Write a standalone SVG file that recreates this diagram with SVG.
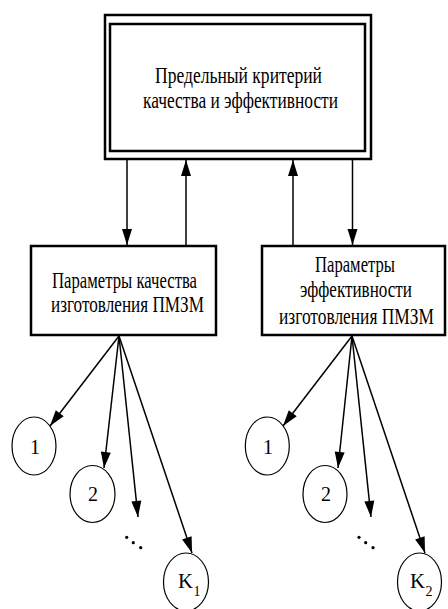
<svg xmlns="http://www.w3.org/2000/svg" width="448" height="609" viewBox="0 0 448 609">
<defs>
<marker id="ah" markerUnits="userSpaceOnUse" markerWidth="16" markerHeight="10" refX="16" refY="5" orient="auto" overflow="visible">
<path d="M0,0 L16,5 L0,10 z" fill="#000"/>
</marker>
</defs>
<style>
.box{fill:#fff;stroke:#000;stroke-width:2.5}
.ell{fill:#fff;stroke:#000;stroke-width:1.2}
text{font-family:'Liberation Serif','DejaVu Serif',serif;fill:#000}
.t{font-size:23px}
.n{font-size:20px;text-anchor:middle}
.s{font-size:14px}
.c{stroke:#000;stroke-width:1.5;fill:none;marker-end:url(#ah)}
</style>
<rect width="448" height="609" fill="#fff"/>
<g id="top">
<rect class="box" x="105" y="15" width="266" height="144"/>
<rect class="box" x="110" y="24" width="255" height="127"/>
<text class="t" x="155" y="83" textLength="167" lengthAdjust="spacingAndGlyphs">Предельный критерий</text>
<text class="t" x="143" y="108" textLength="195" lengthAdjust="spacingAndGlyphs">качества и эффективности</text>
</g>
<g id="quality">
<rect class="box" x="31" y="246" width="185" height="89"/>
<text class="t" x="52" y="288" textLength="145" lengthAdjust="spacingAndGlyphs">Параметры качества</text>
<text class="t" x="51" y="312" textLength="153" lengthAdjust="spacingAndGlyphs">изготовления ПМЗМ</text>
</g>
<g id="efficiency">
<rect class="box" x="262" y="246" width="183" height="89"/>
<text class="t" x="315" y="272" textLength="80" lengthAdjust="spacingAndGlyphs">Параметры</text>
<text class="t" x="300" y="297" textLength="112" lengthAdjust="spacingAndGlyphs">эффективности</text>
<text class="t" x="279" y="324" textLength="155" lengthAdjust="spacingAndGlyphs">изготовления ПМЗМ</text>
</g>
<g id="q1"><ellipse class="ell" cx="34" cy="446" rx="22" ry="29"/><text class="n" x="35" y="454">1</text></g>
<g id="q2"><ellipse class="ell" cx="92.5" cy="494" rx="22.5" ry="28.5"/><text class="n" x="93" y="501">2</text></g>
<g id="qk"><ellipse class="ell" cx="186" cy="582" rx="22.5" ry="29"/><text class="n" x="185.5" y="588" textLength="15" lengthAdjust="spacingAndGlyphs">K</text><text class="s" x="193.5" y="596">1</text></g>
<g id="e1"><ellipse class="ell" cx="267.3" cy="446" rx="22" ry="29"/><text class="n" x="268" y="454">1</text></g>
<g id="e2"><ellipse class="ell" cx="325" cy="494" rx="22" ry="28.5"/><text class="n" x="326" y="501">2</text></g>
<g id="ek"><ellipse class="ell" cx="419.5" cy="582" rx="22" ry="29"/><text class="n" x="417.5" y="588" textLength="15" lengthAdjust="spacingAndGlyphs">K</text><text class="s" x="425.5" y="596">2</text></g>
<g id="dots">
<circle cx="126.7" cy="537.3" r="1.6"/><circle cx="133.3" cy="542.7" r="1.6"/><circle cx="140.7" cy="547.7" r="1.6"/>
<circle cx="359" cy="537.3" r="1.6"/><circle cx="365.7" cy="542.7" r="1.6"/><circle cx="373" cy="547.7" r="1.6"/>
</g>
<g id="connectors">
<line class="c" x1="127" y1="159" x2="127" y2="245"/>
<line class="c" x1="186" y1="245" x2="186" y2="160"/>
<line class="c" x1="293" y1="245" x2="293" y2="160"/>
<line class="c" x1="352.5" y1="159" x2="352.5" y2="245"/>
<line class="c" x1="119" y1="336" x2="50" y2="426"/>
<line class="c" x1="119" y1="336" x2="104" y2="468"/>
<line class="c" x1="119" y1="336" x2="138" y2="517"/>
<line class="c" x1="119" y1="336" x2="192" y2="553"/>
<line class="c" x1="352" y1="336" x2="283" y2="426"/>
<line class="c" x1="352" y1="336" x2="338" y2="468"/>
<line class="c" x1="352" y1="336" x2="371" y2="517"/>
<line class="c" x1="352" y1="336" x2="425" y2="553"/>
</g>
</svg>
